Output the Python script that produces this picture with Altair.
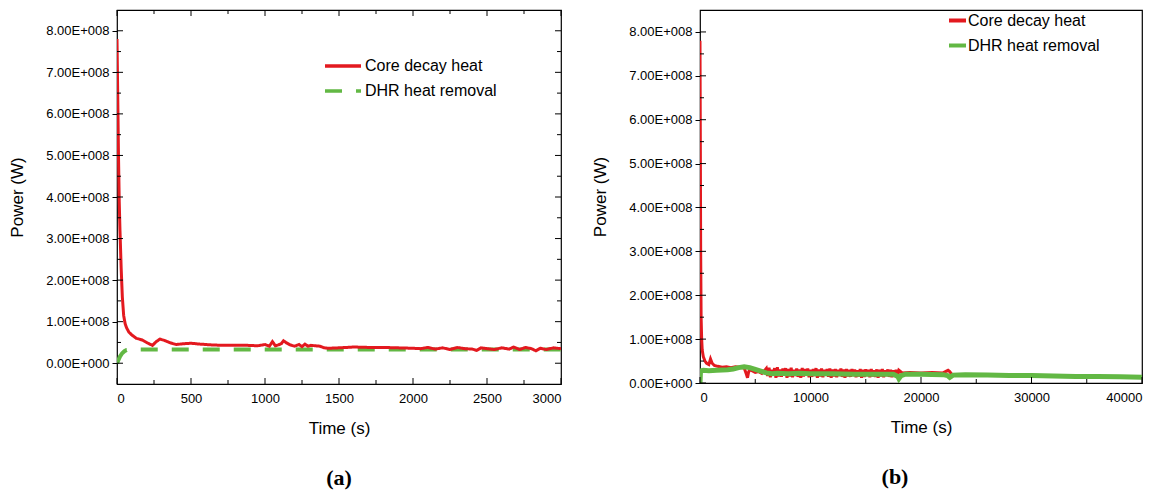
import altair as alt
import pandas as pd

RED = "#e3191f"
GREEN = "#62b844"
SERIES = ["Core decay heat", "DHR heat removal"]

# ---------------- Panel (a): 0 - 3000 s ----------------
A_RED_T = [0, 5, 10, 15, 20, 28, 36, 45, 55, 65, 80, 100, 130, 170, 210, 240, 265, 290,
           320, 360, 400, 450, 500, 560, 640, 720, 800, 880, 950, 1000, 1030, 1050, 1070,
           1090, 1110, 1125, 1145, 1170, 1200, 1230, 1250, 1270, 1290, 1310, 1340, 1370,
           1400, 1430, 1500, 1600, 1700, 1800, 1900, 2000, 2050, 2100, 2150, 2200, 2250,
           2300, 2350, 2400, 2430, 2460, 2500, 2550, 2600, 2650, 2680, 2720, 2760, 2800,
           2830, 2860, 2900, 2950, 3000]
A_RED_P = [7.8, 6.4, 5.0, 3.9, 3.2, 2.3, 1.6, 1.15, 0.95, 0.85, 0.75, 0.68, 0.60, 0.56,
           0.48, 0.43, 0.52, 0.58, 0.55, 0.49, 0.45, 0.47, 0.48, 0.46, 0.44, 0.43, 0.43,
           0.43, 0.42, 0.45, 0.41, 0.52, 0.42, 0.44, 0.47, 0.54, 0.49, 0.44, 0.41, 0.45,
           0.40, 0.46, 0.41, 0.43, 0.42, 0.41, 0.37, 0.36, 0.37, 0.39, 0.38, 0.38, 0.37,
           0.36, 0.35, 0.38, 0.34, 0.37, 0.33, 0.38, 0.35, 0.34, 0.31, 0.37, 0.35, 0.33,
           0.37, 0.34, 0.39, 0.33, 0.38, 0.35, 0.30, 0.36, 0.33, 0.37, 0.35]
A_GRN_T = [0, 10, 20, 35, 50, 65, 100, 500, 1000, 1500, 2000, 2500, 3000]
A_GRN_P = [0.0, 0.08, 0.16, 0.24, 0.29, 0.32, 0.33, 0.33, 0.33, 0.33, 0.33, 0.33, 0.33]

A_X_MAJOR = [0, 500, 1000, 1500, 2000, 2500, 3000]
A_X_MINOR = [250, 750, 1250, 1750, 2250, 2750]
A_Y_MAJOR = [0, 1e8, 2e8, 3e8, 4e8, 5e8, 6e8, 7e8, 8e8]
A_Y_MINOR = [0.5e8, 1.5e8, 2.5e8, 3.5e8, 4.5e8, 5.5e8, 6.5e8, 7.5e8]

# ---------------- Panel (b): 0 - 40000 s ----------------
B_RED_T = [0, 30, 60, 100, 150, 200, 300, 450, 600, 800, 950, 1100, 1300, 1600, 2000,
           2400, 2800, 3200, 3600, 4000, 4200, 4300, 4400, 4500, 4700, 5000, 5300, 5600,
           5900,
           6000, 6120, 6250, 6370, 6500, 6620, 6750, 6870, 7000, 7120, 7250, 7370, 7500,
           7620, 7750, 7870, 8000, 8120, 8250, 8370, 8500, 8620, 8750, 8870, 9000, 9120,
           9250, 9370, 9500, 9620, 9750, 9870, 10000, 10120, 10250, 10370, 10500, 10620,
           10750, 10870, 11000, 11120, 11250, 11370, 11500, 11620, 11750, 11870, 12000,
           12120, 12250, 12370, 12500, 12620, 12750, 12870, 13000, 13120, 13250, 13370,
           13500, 13620, 13750, 13870, 14000, 14120, 14250, 14370, 14500, 14620, 14750,
           14870, 15000, 15120, 15250, 15370, 15500, 15620, 15750, 15870, 16000, 16120,
           16250, 16370, 16500, 16620, 16750, 16870, 17000, 17120, 17250, 17370, 17500,
           17620, 17750, 17870, 18000,
           18300, 19000, 20000, 21000, 22000, 22300, 22450, 22600, 22800, 24000, 28000,
           32000, 36000, 40000]
B_RED_P = [7.8, 5.5, 3.0, 1.5, 1.0, 0.75, 0.60, 0.50, 0.45, 0.42, 0.55, 0.45, 0.40, 0.38,
           0.36, 0.37, 0.35, 0.37, 0.36, 0.34, 0.20, 0.12, 0.25, 0.30, 0.28, 0.24, 0.26,
           0.22, 0.30,
           0.33, 0.16, 0.35, 0.13, 0.30, 0.18, 0.34, 0.12, 0.36, 0.15, 0.31, 0.14, 0.33,
           0.17, 0.34, 0.12, 0.32, 0.15, 0.35, 0.13, 0.30, 0.16, 0.33, 0.14, 0.31, 0.12,
           0.34, 0.15, 0.32, 0.17, 0.33, 0.13, 0.30, 0.14, 0.32, 0.16, 0.34, 0.12,
           0.31, 0.15, 0.33, 0.13, 0.30, 0.17, 0.32, 0.14, 0.33, 0.12, 0.31,
           0.15, 0.32, 0.13, 0.30, 0.16, 0.33, 0.14, 0.31, 0.12, 0.32, 0.15,
           0.30, 0.14, 0.32, 0.16, 0.31, 0.13, 0.29, 0.15, 0.32, 0.12, 0.30,
           0.14, 0.31, 0.16, 0.30, 0.13, 0.32, 0.15, 0.29, 0.14, 0.31, 0.12,
           0.30, 0.15, 0.32, 0.13, 0.29, 0.16, 0.31, 0.14, 0.30, 0.13, 0.29,
           0.15, 0.30, 0.14, 0.29,
           0.23, 0.24, 0.23, 0.24, 0.23, 0.27, 0.29, 0.26, 0.19, 0.19, 0.17,
           0.16, 0.15, 0.13]
B_GRN_T = [0, 40, 100, 300, 800, 1500, 2500, 3000, 3500, 4000, 4500, 5000, 5500, 6000,
           6500, 7000, 8000, 9000, 10000, 12000, 14000, 16000, 17500, 17900, 18000, 18200,
           18600, 20000, 22000, 22400, 22600, 22900, 24000, 26000, 28000, 30000, 32000,
           34000, 36000, 38000, 40000]
B_GRN_P = [0.0, 0.25, 0.28, 0.29, 0.28, 0.29, 0.30, 0.32, 0.35, 0.37, 0.35, 0.31, 0.27,
           0.23, 0.21, 0.22, 0.21, 0.22, 0.21, 0.21, 0.20, 0.20, 0.20, 0.15, 0.10, 0.17,
           0.20, 0.20, 0.19, 0.17, 0.13, 0.18, 0.19, 0.18, 0.17, 0.17, 0.16, 0.15, 0.15,
           0.14, 0.13]

B_X_MAJOR = [0, 10000, 20000, 30000, 40000]
B_X_MINOR = [5000, 15000, 25000, 35000]
B_Y_MAJOR = A_Y_MAJOR
B_Y_MINOR = A_Y_MINOR

FONT = "Liberation Sans"
LABEL_EXPR = "datum.value == 0 ? '0.00E+000' : format(datum.value / 1e8, '.2f') + 'E+008'"


def frame(ts, ps, name):
    n = min(len(ts), len(ps))
    return pd.DataFrame({"t": ts[:n], "p": [v * 1e8 for v in ps[:n]], "series": name})


def panel(red_df, grn_df, xdom, ydom, xmaj, xmin, ymaj, ymin, W, H, dashed, legend,
          red_on_top, mirror):
    xs = alt.Scale(domain=xdom, nice=False, zero=False)
    ys = alt.Scale(domain=ydom, nice=False, zero=False)
    color = alt.Color("series:N", scale=alt.Scale(domain=SERIES, range=[RED, GREEN]),
                      legend=legend)
    xaxis = alt.Axis(values=xmaj, format="d", ticks=False, labelPadding=8, domain=False,
                     grid=False, title="Time (s)", titlePadding=15)
    yaxis = alt.Axis(values=ymaj, labelExpr=LABEL_EXPR, tickSize=5, tickColor="black",
                     labelPadding=3, domain=False, grid=False, title="Power (W)",
                     titlePadding=19)

    enc_common = dict(x=alt.X("t:Q", scale=xs, axis=xaxis, title="Time (s)"),
                      y=alt.Y("p:Q", scale=ys, axis=yaxis, title="Power (W)"), color=color)
    if dashed:
        dash = alt.StrokeDash("series:N",
                              scale=alt.Scale(domain=SERIES, range=[[1, 0], [17, 14]]),
                              legend=legend)
        red = alt.Chart(red_df).mark_line(strokeWidth=3, clip=True).encode(
            strokeDash=dash, **enc_common)
        grn = alt.Chart(grn_df).mark_line(strokeWidth=4, clip=True).encode(
            strokeDash=dash, **enc_common)
    else:
        red = alt.Chart(red_df).mark_line(strokeWidth=3, clip=True).encode(**enc_common)
        grn = alt.Chart(grn_df).mark_line(strokeWidth=5, clip=True).encode(**enc_common)

    layers = [grn, red] if red_on_top else [red, grn]

    def xticks(vals, length, top):
        d = pd.DataFrame({"t": vals})
        y1, y2 = (0, length) if top else (H, H - length)
        return alt.Chart(d).mark_rule(color="black", strokeWidth=1).encode(
            x=alt.X("t:Q", scale=xs, axis=xaxis, title="Time (s)"),
            y=alt.value(y1), y2=alt.value(y2))

    def yticks(vals, length, right):
        d = pd.DataFrame({"p": vals})
        x1, x2 = (W, W - length) if right else (0, length)
        return alt.Chart(d).mark_rule(color="black", strokeWidth=1).encode(
            y=alt.Y("p:Q", scale=ys, axis=yaxis, title="Power (W)"),
            x=alt.value(x1), x2=alt.value(x2))

    ticks = [xticks(xmaj, 6, False), xticks(xmin, 4, False),
             yticks(ymaj, 6, False), yticks(ymin, 4, False)]
    if mirror:
        ticks += [xticks(xmaj, 6, True), xticks(xmin, 4, True),
                  yticks(ymaj, 6, True), yticks(ymin, 4, True)]
    return alt.layer(*layers, *ticks).properties(width=W, height=H)


legend_a = alt.Legend(orient="none", legendX=218, legendY=48, title=None,
                      symbolType="M-3,0H3", symbolSize=144, symbolStrokeWidth=3.5,
                      labelFont=FONT, labelFontSize=16, labelColor="black",
                      labelOffset=14, rowPadding=9, padding=0)
legend_b = alt.Legend(orient="none", legendX=247, legendY=0, title=None,
                      symbolType="stroke", symbolSize=289, symbolStrokeWidth=4,
                      labelFont=FONT, labelFontSize=16, labelColor="black",
                      labelOffset=0, rowPadding=6, padding=0)

left = panel(frame(A_RED_T, A_RED_P, SERIES[0]), frame(A_GRN_T, A_GRN_P, SERIES[1]),
             [0, 3000], [-0.5e8, 8.5e8], A_X_MAJOR, A_X_MINOR, A_Y_MAJOR, A_Y_MINOR,
             444, 374, True, legend_a, True, True).properties(
    title=alt.TitleParams("(a)", orient="bottom", font="Liberation Serif", fontSize=22,
                          fontWeight="bold", offset=32, anchor="middle", color="black"))

right = panel(frame(B_RED_T, B_RED_P, SERIES[0]), frame(B_GRN_T, B_GRN_P, SERIES[1]),
              [0, 40000], [0, 8.5e8], B_X_MAJOR, B_X_MINOR, B_Y_MAJOR, B_Y_MINOR,
              442, 373, False, legend_b, False, False).properties(
    title=alt.TitleParams("(b)", orient="bottom", font="Liberation Serif", fontSize=22,
                          fontWeight="bold", offset=32, anchor="middle", dx=-26,
                          color="black"))

chart = alt.hconcat(left, right, spacing=28).resolve_scale(
    color="independent", strokeDash="independent", x="independent", y="independent"
).properties(padding=0, background="white").configure_view(
    stroke="black", strokeWidth=1.2
).configure_axis(
    labelFont=FONT, labelFontSize=13, labelColor="black",
    titleFont=FONT, titleFontSize=17, titleFontWeight="normal", titleColor="black"
)

chart.save("out.html", embed_options={"renderer": "svg", "actions": False})
